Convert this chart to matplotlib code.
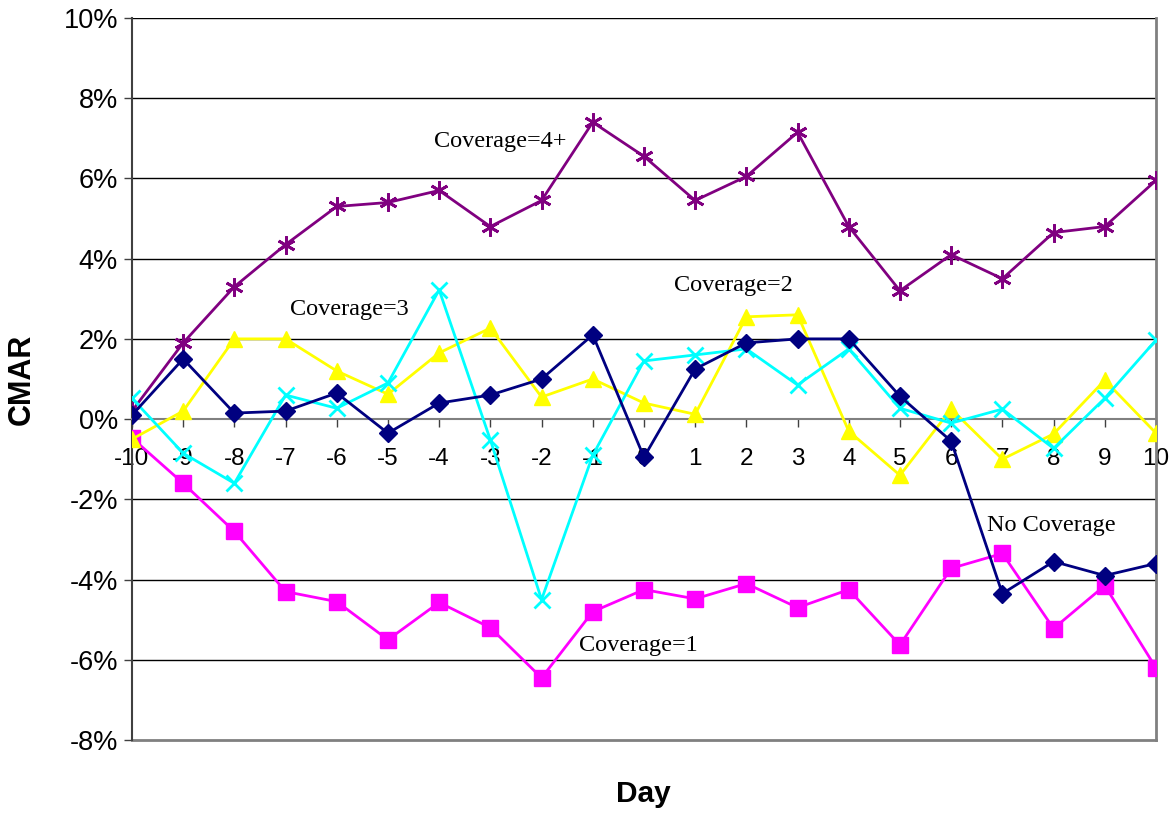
import numpy as np
import matplotlib
matplotlib.use("Agg")
import matplotlib.pyplot as plt
from matplotlib.ticker import FuncFormatter

plt.rcParams["axes.unicode_minus"] = False
plt.rcParams["font.family"] = "Liberation Sans"

days = list(range(-10, 11))

# CMAR in percent per coverage group
no_coverage = [0.1, 1.5, 0.15, 0.2, 0.65, -0.35, 0.4, 0.6, 1.0, 2.1, -0.95,
               1.25, 1.9, 2.0, 2.0, 0.57, -0.55, -4.35, -3.55, -3.9, -3.6]
coverage_1 = [-0.47, -1.6, -2.8, -4.3, -4.55, -5.5, -4.57, -5.2, -6.45, -4.8, -4.25,
              -4.48, -4.1, -4.7, -4.25, -5.63, -3.72, -3.35, -5.22, -4.15, -6.2]
coverage_2 = [-0.5, 0.2, 2.0, 2.0, 1.2, 0.62, 1.65, 2.27, 0.55, 1.0, 0.4,
              0.12, 2.55, 2.6, -0.3, -1.4, 0.25, -1.0, -0.37, 0.97, -0.35]
coverage_3 = [0.52, -0.85, -1.6, 0.6, 0.27, 0.9, 3.22, -0.52, -4.5, -0.9, 1.45,
              1.6, 1.75, 0.85, 1.75, 0.27, -0.1, 0.25, -0.73, 0.52, 1.97]
coverage_4 = [0.2, 1.9, 3.3, 4.35, 5.3, 5.4, 5.7, 4.8, 5.45, 7.4, 6.55,
              5.45, 6.05, 7.15, 4.8, 3.2, 4.1, 3.5, 4.65, 4.8, 5.95]

y_ticks = list(range(-8, 11, 2))

fig = plt.figure(figsize=(11.75, 8.16), dpi=100)
ax = fig.add_axes([0.1123, 0.0931, 0.8715, 0.8849])

ax.plot(days, coverage_1, color="#FF00FF", lw=2, marker="s", ms=11, zorder=3)
ax.plot(days, coverage_4, color="#800080", lw=2, marker=(6, 2, 0), ms=13,
        mew=2, zorder=3)
ax.plot(days, coverage_2, color="#FFFF00", lw=2, marker="^", ms=12, zorder=3)
ax.plot(days, coverage_3, color="#00FFFF", lw=2, marker="x", ms=12, mew=2, zorder=3)
ax.plot(days, no_coverage, color="#000080", lw=2, marker="D", ms=9.5, zorder=4)

ax.set_xlim(-10, 10)
ax.set_ylim(-8, 10)
ax.set_xticks(days)
ax.set_yticks(y_ticks)
ax.yaxis.set_major_formatter(FuncFormatter(lambda v, p: f"{v:.0f}%"))

# horizontal gridlines, category axis crosses at zero
for v in y_ticks:
    if v not in (0, -8):
        ax.axhline(v, color="black", lw=1, zorder=1)
ax.spines["bottom"].set_position(("data", 0))
ax.spines["bottom"].set_color("#808080")
ax.spines["bottom"].set_linewidth(1.5)
ax.spines["left"].set_color("#404040")
ax.spines["left"].set_linewidth(1.5)
ax.spines["right"].set_color("#808080")
ax.spines["right"].set_linewidth(2)
ax.spines["top"].set_visible(False)
ax.axhline(-8, color="#808080", lw=2, zorder=1, clip_on=False)

ax.tick_params(axis="x", direction="out", length=6, width=1, color="#404040",
               labelsize=17.5, pad=15)
ax.tick_params(axis="y", direction="out", length=6, width=1, color="#404040",
               labelsize=19.5, pad=4)

fig.text(643 / 1175, 1 - 802 / 816, "Day", fontsize=21.5, fontweight="bold",
         ha="center", va="baseline")
fig.text(22 / 1175, 1 - 379 / 816, "CMAR", fontsize=22, fontweight="bold",
         ha="center", va="center", rotation=90)

note = dict(fontsize=17.5, family="Liberation Serif", va="center", ha="left")
ax.text(-4.1, 6.93, "Coverage=4+", **note)
ax.text(-6.91, 2.74, "Coverage=3", **note)
ax.text(0.59, 3.34, "Coverage=2", **note)
ax.text(6.70, -2.64, "No Coverage", **note)
ax.text(-1.27, -5.64, "Coverage=1", **note)

fig.savefig("out.png", dpi=100)
